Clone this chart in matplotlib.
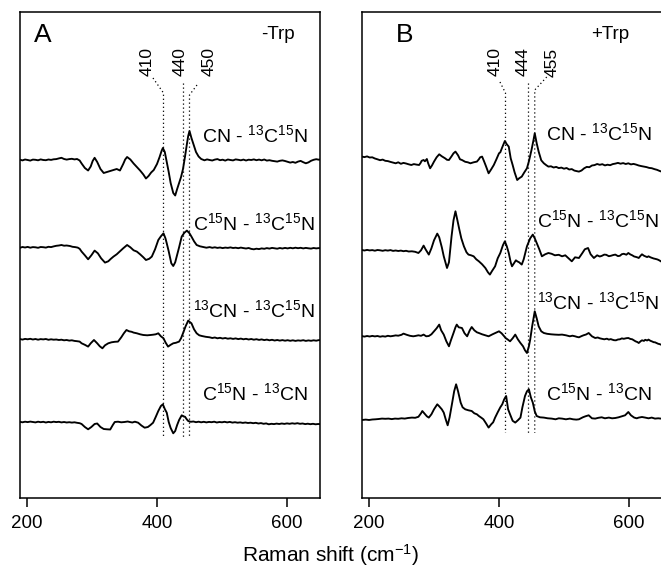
import matplotlib
matplotlib.use("Agg")
import matplotlib.pyplot as plt

plt.rcParams['font.family'] = ['Liberation Sans', 'DejaVu Sans']
plt.rcParams['mathtext.fontset'] = 'custom'
plt.rcParams['mathtext.rm'] = 'Liberation Sans'
plt.rcParams['mathtext.it'] = 'Liberation Sans'
plt.rcParams['mathtext.bf'] = 'Liberation Sans'

# ---------------- data (Raman shift in cm^-1, difference intensity in a.u.) ----------------
A1_x = [189,193,197,201,205,209,213,217,221,225,229,233,237,241,245,249,253,257,261,265,269,273,277,281,284,289,294,298,301,304,308,313,318,323,328,333,338,343,348,351,354,359,364,369,374,379,383,387,391,395,400,404,407,409,412,415,418,421,425,428,431,434,437,440,443,446,448,450,453,456,460,464,468,473,477,481,485,489,493,497,501,505,509,513,517,521,525,529,533,537,541,545,549,553,557,561,565,569,573,577,581,585,589,593,597,601,605,609,613,617,621,625,629,633,637,641,645,649,652]
A1_y = [0.3,-0.4,0.5,0.0,-0.6,0.4,0.2,-0.3,0.6,0.0,-0.2,0.5,0.1,0.7,0.9,1.6,2.2,1.0,0.4,0.9,1.2,0.6,1.0,-0.5,-3.5,-8.0,-10.5,-6.5,-1.0,2.2,-2.0,-9.0,-13.0,-12.0,-11.0,-10.0,-9.0,-10.5,-4.0,0.5,3.0,0.5,-3.5,-7.0,-10.5,-14.5,-18.5,-16.0,-12.5,-10.0,-4.0,3.0,9.0,12.0,8.0,-2.0,-12.0,-23.0,-33.0,-35.5,-29.0,-23.0,-17.0,-9.0,3.0,16.0,24.0,29.0,22.0,16.0,8.0,3.5,1.0,-0.3,0.6,0.0,-0.5,0.4,0.9,-0.2,0.3,-0.6,0.5,0.0,-0.4,0.6,0.2,-0.3,0.4,-0.5,0.3,0.0,0.6,-0.2,0.4,-0.3,0.5,-0.6,-0.2,-0.8,-1.2,-1.6,-0.8,-0.4,-1.0,-1.8,-2.6,-2.0,-2.8,-1.6,-0.9,-2.2,-3.3,-2.4,-0.8,0.2,0.8,0.3,0.5]

A2_x = [189,193,197,201,205,209,213,217,221,225,229,233,237,241,245,249,253,257,261,266,270,274,278,281,284,289,294,299,304,309,314,320,325,329,333,338,343,348,354,359,364,369,374,379,383,388,392,397,402,406,410,413,415,418,422,425,428,431,434,438,442,446,450,453,457,461,466,471,476,481,485,489,493,497,501,505,509,513,517,521,525,529,533,537,541,545,549,553,557,561,565,569,573,577,581,585,589,593,597,601,605,609,613,617,621,625,629,633,637,641,645,649,652]
A2_y = [-0.5,0.3,-0.2,0.4,-0.4,0.2,0.0,-0.5,0.3,0.1,-0.3,0.5,0.2,0.9,1.5,1.8,2.3,1.6,1.8,1.3,0.5,0.2,-0.3,-1.5,-4.3,-8.0,-12.0,-8.0,-3.3,-6.0,-11.0,-15.3,-14.0,-11.5,-9.3,-7.0,-4.0,-1.0,2.3,0.0,-3.0,-4.3,-7.0,-10.0,-12.7,-11.5,-9.3,-2.0,7.3,11.0,14.0,9.0,4.0,-4.0,-16.0,-18.7,-15.0,-7.5,0.0,10.7,14.5,16.7,14.0,10.7,6.0,2.3,1.0,0.3,-0.4,0.2,-0.5,0.0,-0.6,-0.2,-0.8,-0.3,-0.6,-0.1,-0.7,-0.4,-0.9,-0.3,-0.8,-1.2,-0.7,-1.6,-2.0,-1.4,-1.8,-1.1,-1.5,-0.8,-1.3,-0.6,-1.0,-1.4,-0.7,-1.2,-0.6,-1.1,-0.5,-1.0,-0.4,-0.9,-0.5,-1.1,-0.6,-1.0,-1.3,-0.7,-1.1,-0.8,-1.0]

A3_x = [189,193,197,201,205,209,213,217,221,225,229,233,237,241,245,249,253,257,261,265,269,273,277,281,284,289,294,298,303,308,312,316,320,325,330,335,340,345,349,353,357,361,364,369,374,379,385,390,394,398,402,406,410,413,417,421,425,429,434,437,440,444,448,451,453,457,461,465,469,475,481,485,489,493,497,501,505,509,513,517,521,525,529,533,537,541,545,549,553,557,561,565,569,573,577,581,585,589,593,597,601,605,609,613,617,621,625,629,633,637,641,645,649,652]
A3_y = [0.3,-0.3,0.4,0.0,0.5,-0.2,0.3,-0.4,0.2,-0.1,0.3,-0.5,0.0,-0.4,-0.2,-0.7,-0.4,-1.0,-0.7,-1.3,-1.0,-1.6,-1.9,-2.3,-4.0,-5.5,-7.3,-4.0,-0.7,-4.0,-7.0,-9.0,-6.0,-4.0,-3.0,-2.5,-2.3,2.0,6.0,9.3,8.0,7.5,6.7,6.0,5.0,4.3,4.0,4.3,4.6,5.0,6.0,3.0,1.0,-3.0,-7.3,-5.5,-4.0,-3.5,-2.3,1.0,6.0,13.0,18.7,17.0,16.0,10.0,6.0,4.0,3.3,2.5,2.0,1.3,1.8,1.0,1.5,0.8,1.3,0.6,1.0,0.4,0.9,0.2,0.7,0.0,0.5,-0.2,0.3,-0.4,0.1,-0.6,-0.1,-0.8,-0.3,-1.0,-0.5,-1.2,-0.7,-1.3,-0.8,-1.4,-0.9,-1.5,-1.0,-1.6,-1.1,-1.4,-0.9,-1.6,-1.1,-1.5,-1.0,-1.4,-0.8,-1.0]

A4_x = [189,193,197,201,205,209,213,217,221,225,229,233,237,241,245,249,253,257,261,265,269,273,277,281,284,289,294,299,304,308,313,318,323,328,332,335,340,345,350,355,358,362,366,371,376,381,386,390,394,398,402,406,409,412,415,418,421,425,428,431,434,438,441,443,446,448,452,456,460,464,468,472,476,480,484,488,492,496,500,504,508,512,516,520,524,528,532,536,540,544,548,552,556,560,564,568,572,576,580,584,588,592,596,600,604,608,612,616,620,624,628,632,636,640,644,648,652]
A4_y = [0.2,-0.3,0.3,-0.1,0.4,0.0,-0.4,0.3,-0.2,0.2,-0.5,0.1,-0.3,0.3,-0.1,0.2,-0.4,0.0,-0.5,-0.2,-0.6,-0.3,-0.8,-1.2,-2.0,-5.0,-7.3,-5.0,-2.0,-1.5,-5.0,-7.0,-7.3,-7.5,-3.0,0.0,0.3,-0.3,0.0,0.5,0.0,-0.5,0.3,-0.7,-3.5,-5.7,-5.0,-3.0,-0.7,5.0,11.0,16.0,17.7,13.0,9.3,0.0,-6.0,-11.3,-9.0,-3.0,2.0,6.7,5.5,5.3,2.5,1.0,0.2,0.5,-0.2,0.3,-0.3,0.2,-0.4,0.1,-0.2,0.3,-0.5,0.0,-0.3,0.2,-0.4,0.1,-0.6,-0.2,-0.7,-0.4,-0.9,-0.5,-1.0,-0.7,-1.2,-0.8,-1.5,-1.1,-1.8,-1.4,-2.3,-1.8,-2.1,-1.6,-2.0,-1.5,-1.9,-1.4,-1.8,-1.3,-1.7,-1.2,-1.8,-1.5,-2.1,-1.7,-2.2,-1.8,-2.3,-2.0,-2.2]

B1_x = [189,193,197,201,205,209,213,217,221,225,229,233,237,241,245,249,253,257,261,265,269,273,277,279,281,284,286,289,291,294,297,300,304,308,312,317,320,323,327,330,333,337,340,343,348,352,356,361,366,369,371,374,377,380,384,388,392,396,400,402,405,409,412,415,418,421,424,428,431,435,439,443,446,450,453,455,458,461,465,469,473,476,480,484,488,492,496,500,504,508,512,516,520,523,527,531,535,539,543,547,551,555,559,563,567,571,575,579,583,587,591,595,599,603,607,611,615,619,623,627,631,635,639,643,647,650]
B1_y = [1.7,1.2,1.9,0.8,1.0,-0.2,-1.0,-1.9,-1.3,-2.5,-2.8,-3.6,-4.3,-5.0,-4.0,-5.5,-4.6,-5.2,-6.0,-6.7,-5.8,-6.3,-6.7,-5.0,-2.5,-1.7,-3.0,-0.7,-5.0,-10.0,-7.0,-3.3,1.0,4.0,2.0,0.0,-1.5,-1.7,2.0,5.0,6.7,3.0,-1.0,-1.7,-3.5,-4.0,-5.0,-4.0,-3.3,-1.0,1.0,1.7,-3.0,-8.0,-15.0,-11.0,-6.7,-1.0,5.0,6.0,11.0,17.3,14.0,11.7,0.0,-6.7,-14.0,-21.7,-20.0,-18.3,-14.0,-10.0,-3.0,8.3,18.0,25.0,15.0,6.7,-2.0,-5.0,-7.0,-8.3,-8.0,-9.2,-8.6,-9.8,-9.3,-10.4,-9.7,-11.2,-10.8,-12.3,-12.9,-13.3,-12.2,-10.0,-8.6,-8.9,-7.2,-6.8,-5.7,-6.5,-5.9,-7.1,-6.4,-6.9,-5.8,-5.3,-4.6,-5.4,-4.8,-5.7,-5.0,-6.1,-5.6,-6.3,-7.2,-7.8,-8.3,-8.8,-9.6,-9.9,-10.8,-11.5,-12.6,-13.3]

B2_x = [189,193,197,201,205,209,213,217,221,225,229,233,237,241,245,249,253,257,261,266,271,276,280,284,287,292,296,300,305,308,312,315,318,320,323,327,330,333,336,339,342,346,350,353,357,361,365,369,374,379,383,386,389,394,398,402,406,409,412,415,418,420,423,426,428,431,435,438,443,448,452,455,458,462,466,471,476,481,486,492,497,502,507,512,517,523,528,532,537,541,546,551,555,558,562,565,569,572,576,579,583,586,589,592,596,599,602,605,608,610,613,615,618,620,623,625,628,630,633,635,638,640,643,645,647,649]
B2_y = [0.3,-0.2,0.4,-0.1,0.2,-0.4,0.3,0.0,-0.5,0.1,-0.3,0.2,-0.6,-0.2,-0.7,-0.3,-0.9,-0.5,-1.2,-1.0,-1.5,-2.7,0.0,4.7,1.0,-4.3,2.0,10.0,16.7,13.0,3.0,-6.0,-13.0,-17.7,-12.0,14.0,30.0,39.0,30.0,20.7,12.0,4.0,-2.0,-4.3,-5.0,-6.0,-9.0,-11.0,-14.0,-17.7,-22.0,-24.3,-21.0,-16.0,-8.0,-2.7,5.0,9.0,4.0,-2.7,-12.0,-16.0,-13.0,-10.0,-11.0,-12.0,-14.3,-9.0,4.0,12.0,15.7,12.0,7.3,1.0,-6.0,-4.0,-2.7,-3.5,-5.0,-4.5,-6.0,-5.0,-8.0,-11.0,-7.0,-7.7,-3.0,1.0,2.3,-4.0,-7.7,-5.0,-6.2,-5.6,-4.3,-4.5,-5.9,-5.5,-4.7,-4.3,-5.8,-5.5,-3.9,-3.5,-4.4,-2.7,-4.1,-5.0,-6.2,-6.5,-7.1,-7.7,-5.3,-4.0,-5.4,-6.0,-6.8,-6.0,-7.0,-7.5,-8.2,-8.5,-9.0,-9.5,-10.2,-11.0]

B3_x = [189,193,197,201,205,209,213,217,221,225,229,233,237,241,245,250,253,258,263,268,271,276,280,284,288,292,296,300,304,308,311,315,319,323,326,330,333,335,338,343,347,351,355,358,362,366,369,374,379,384,390,395,400,404,408,410,413,417,421,425,429,433,437,440,443,446,448,451,455,458,461,465,469,474,480,486,492,497,503,509,513,517,520,523,527,530,534,538,543,548,552,555,559,562,566,569,572,574,577,580,583,586,589,592,596,599,602,605,608,610,613,615,618,620,623,625,628,630,633,635,638,640,643,645,647,649]
B3_y = [0.2,-0.3,0.3,-0.2,0.4,-0.1,0.3,-0.4,0.1,-0.3,0.5,0.0,0.4,0.9,0.6,1.5,2.7,1.5,0.5,0.0,0.3,1.0,0.5,1.7,0.0,0.3,2.0,5.0,8.0,11.7,6.0,1.7,-5.0,-10.0,-4.0,3.3,9.0,11.7,9.0,8.3,3.0,0.0,6.0,9.3,6.0,4.0,3.3,2.0,1.0,0.0,2.0,3.5,5.0,3.0,0.0,-1.7,-3.0,-5.0,-2.0,1.7,-3.0,-6.7,-10.0,-14.0,-16.7,-10.0,-3.3,10.0,25.0,18.0,10.0,5.0,3.3,2.5,2.0,1.7,1.5,1.7,1.0,0.0,0.6,0.0,-0.6,-1.0,0.2,1.0,1.8,3.3,0.0,-1.7,-1.2,-2.0,-2.6,-3.0,-2.4,-3.3,-2.8,-3.3,-3.9,-4.0,-3.2,-3.0,-2.1,-2.5,-1.9,-1.7,-2.6,-3.0,-4.2,-5.0,-5.8,-6.7,-4.9,-4.0,-4.6,-3.5,-4.2,-3.3,-4.5,-5.0,-5.9,-6.0,-6.9,-7.5,-7.8,-8.3]

B4_x = [189,195,200,205,210,215,220,225,230,235,240,245,250,255,260,266,271,276,280,282,285,289,292,296,300,305,308,312,315,318,321,324,328,331,334,337,341,344,348,353,358,362,366,369,373,376,380,384,388,391,394,398,402,405,408,411,414,417,421,425,429,433,436,440,443,446,449,452,455,458,463,469,475,481,487,492,497,503,509,514,519,523,529,533,538,543,548,553,558,563,569,574,579,584,589,594,599,603,608,612,615,620,625,630,635,640,645,649]
B4_y = [-0.7,-0.3,-0.7,-0.2,0.0,0.3,0.7,0.5,0.7,0.2,0.7,0.5,1.0,0.7,1.3,1.7,1.5,2.5,6.0,8.3,6.0,3.0,1.7,5.0,10.0,15.0,13.0,10.0,6.7,0.0,-6.0,2.0,16.7,28.0,35.0,28.0,16.7,12.0,10.0,9.0,8.3,6.0,5.0,3.3,1.5,0.0,-4.0,-8.3,-5.0,-3.0,1.7,7.0,12.0,15.0,20.0,23.3,10.0,5.0,-1.5,-3.3,-1.0,1.7,12.0,23.3,28.0,30.0,22.0,16.7,8.0,3.3,2.0,1.7,1.0,0.7,0.0,1.0,0.7,0.0,0.7,0.0,-0.3,0.0,2.0,3.0,4.0,1.0,0.7,1.5,2.0,1.0,1.7,1.0,1.3,2.0,3.0,4.0,7.3,4.0,1.7,1.0,1.7,2.3,1.7,1.0,1.7,0.7,1.0,0.7]

panel_A = [(A1_x, A1_y), (A2_x, A2_y), (A3_x, A3_y), (A4_x, A4_y)]
panel_B = [(B1_x, B1_y), (B2_x, B2_y), (B3_x, B3_y), (B4_x, B4_y)]
offsets_A = [338, 250.7, 158.7, 76]
offsets_B = [339.7, 247.7, 161.7, 78.7]

trace_labels_A = [r"CN - $^{13}$C$^{15}$N", r"C$^{15}$N - $^{13}$C$^{15}$N",
                  r"$^{13}$CN - $^{13}$C$^{15}$N", r"C$^{15}$N - $^{13}$CN"]
trace_labels_B = trace_labels_A
label_pos_A = [(632, 363), (643, 275), (643, 188), (632, 105)]
label_pos_B = [(635, 365), (645, 278), (645, 196), (635, 105)]

peaks_A = [410, 440, 450]
peaks_B = [410, 444, 455]
peak_text_x_A = [384.6, 435.4, 480.8]
peak_text_x_B = [393.8, 436.9, 481.5]
conn_start_A = [(393.8, 420), (440, 415), (461.5, 413)]
conn_start_B = [(401.5, 416), (444, 415), (473.4, 421)]
conn_end_y_A = [405, 415, 403]
conn_end_y_B = [405, 415, 408]

xticks = [200, 400, 600]
xlim = (189.2, 650.8)

W, H = 661, 567
fig = plt.figure(figsize=(W / 100, H / 100), dpi=100)
axA = fig.add_axes([20 / W, 69 / H, 300 / W, 486 / H])
axB = fig.add_axes([362 / W, 69 / H, 300 / W, 486 / H])

dot = (0, (1, 2.2))

def draw(ax, traces, offsets, labels, lpos, peaks, ptx, cstart, cend, bottom, letter, letter_x, cond, cond_x):
    for (x, y), off in zip(traces, offsets):
        ax.plot(x, [v + off for v in y], color='black', lw=1.35)
    for lab, (lx, ly) in zip(labels, lpos):
        ax.text(lx, ly, lab, ha='right', va='center', fontsize=14)
    for p, tx, (sx, sy), ey in zip(peaks, ptx, cstart, cend):
        ax.plot([sx, p, p], [sy, ey, bottom], color='black', lw=0.9, linestyle=dot)
        ax.text(tx, 436, str(p), rotation=90, ha='center', va='center', fontsize=12.5)
    ax.text(letter_x, 0.953, letter, transform=ax.transAxes, ha='center', va='center', fontsize=19)
    ax.text(cond_x, 0.953, cond, transform=ax.transAxes, ha='center', va='center', fontsize=13.5)
    ax.set_xlim(*xlim)
    ax.set_ylim(0, 486)
    ax.set_xticks(xticks)
    ax.set_xticklabels([str(t) for t in xticks], fontsize=13.5)
    ax.set_yticks([])
    ax.tick_params(axis='x', direction='out', length=6.5, width=1.1, pad=6)
    for s in ax.spines.values():
        s.set_linewidth(1.1)

draw(axA, panel_A, offsets_A, trace_labels_A, label_pos_A, peaks_A, peak_text_x_A,
     conn_start_A, conn_end_y_A, 61, "A", 0.077, "-Trp", 0.86)
draw(axB, panel_B, offsets_B, trace_labels_B, label_pos_B, peaks_B, peak_text_x_B,
     conn_start_B, conn_end_y_B, 65, "B", 0.143, "+Trp", 0.827)

fig.text(0.5, 1 - 555 / H, r"Raman shift (cm$^{-1}$)", ha='center', va='center', fontsize=15)

fig.savefig("out.png", dpi=100)
